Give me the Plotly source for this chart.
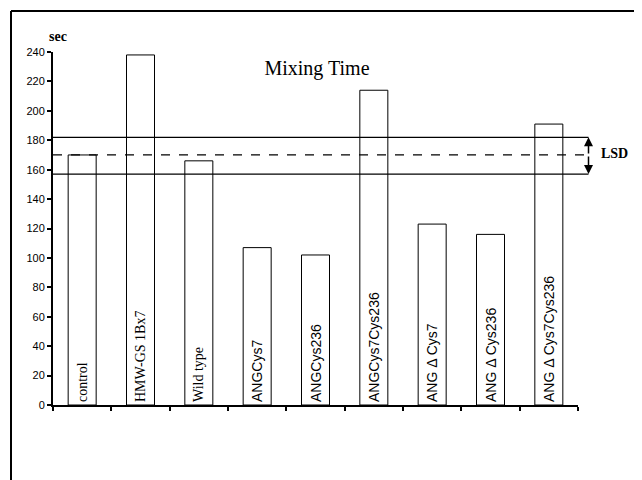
import plotly.graph_objects as go

categories = ["control", "HMW-GS 1Bx7", "Wild type", "ANGCys7", "ANGCys236",
              "ANGCys7Cys236", "ANG \u0394 Cys7", "ANG \u0394 Cys236", "ANG \u0394 Cys7Cys236"]
mixing_time = [170, 238, 166, 107, 102, 214, 123, 116, 191]
label_fonts = ["Liberation Serif"] * 3 + ["Liberation Sans"] * 6
y_ticks = [0, 20, 40, 60, 80, 100, 120, 140, 160, 180, 200, 220, 240]
lsd_center = 170
lsd_upper = 182
lsd_lower = 157

fig = go.Figure()
fig.add_trace(go.Bar(
    x=categories, y=mixing_time,
    marker=dict(color="white", line=dict(color="black", width=1)),
    text=categories, textposition="inside", textangle=-90,
    insidetextanchor="start",
    textfont=dict(family=label_fonts, size=14, color="black"),
    hoverinfo="skip",
))

# LSD lines
for val, dash in [(lsd_upper, "solid"), (lsd_center, "dash"), (lsd_lower, "solid")]:
    fig.add_shape(type="line", xref="x domain", yref="y", x0=0, x1=1.02,
                  y0=val, y1=val, line=dict(color="black", width=1.3, dash=dash))

# LSD double arrow
for end in [lsd_upper, lsd_lower]:
    fig.add_annotation(xref="x domain", yref="y", x=1.02, y=end,
                       axref="pixel", ayref="y", ax=0, ay=lsd_center,
                       showarrow=True, arrowhead=2, arrowsize=1.2, arrowwidth=1.5,
                       arrowcolor="black", text="")
fig.add_annotation(xref="x domain", yref="y", x=1.04, y=lsd_center + 1,
                   text="<b>LSD</b>", showarrow=False, xanchor="left",
                   font=dict(family="Liberation Serif", size=14, color="black"))

# unit label
fig.add_annotation(xref="paper", yref="paper", x=-0.011, y=1.045, text="<b>sec</b>",
                   showarrow=False, yanchor="middle",
                   font=dict(family="Liberation Serif", size=14, color="black"))

# outer frame (only left and top edges visible in the original)
fig.add_shape(type="line", xref="paper", yref="paper", x0=-0.08, x1=-0.08, y0=-0.4, y1=1.116,
              line=dict(color="black", width=2), layer="below")
fig.add_shape(type="line", xref="paper", yref="paper", x0=-0.08, x1=1.3, y0=1.116, y1=1.116,
              line=dict(color="black", width=2), layer="below")

fig.update_layout(
    width=634, height=472,
    margin=dict(l=45, r=64, t=44, b=75),
    paper_bgcolor="white", plot_bgcolor="white",
    showlegend=False,
    bargap=0.52,
    title=dict(text="Mixing Time", x=309 / 634, xref="container", y=1 - 60 / 472,
               yanchor="middle", xanchor="center",
               font=dict(family="Liberation Serif", size=20, color="black")),
    xaxis=dict(showticklabels=False, showline=True, linecolor="black", linewidth=2,
               ticks="outside", tickson="boundaries", ticklen=4, tickwidth=1.5,
               tickcolor="black", showgrid=False, zeroline=False),
    yaxis=dict(range=[0, 240], tickvals=y_ticks, showline=True, linecolor="black",
               linewidth=2, ticks="outside", ticklen=4, tickwidth=1.5, tickcolor="black",
               showgrid=False, zeroline=False,
               tickfont=dict(family="Liberation Sans", size=11, color="black")),
)

fig.write_html("out.html")
